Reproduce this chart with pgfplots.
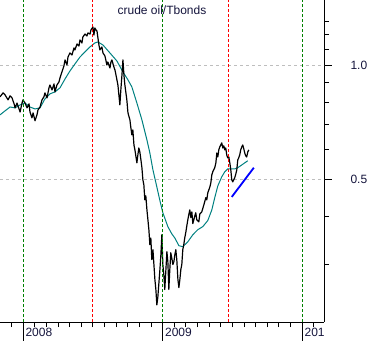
\documentclass[border=0pt]{standalone}
\usepackage{fontspec}
\setmainfont{Liberation Sans}
\usepackage{pgfplots}
\usepackage{pgfplotstable}
\pgfplotsset{compat=1.18}
\definecolor{navy}{RGB}{20,20,60}
\definecolor{tealc}{RGB}{0,128,128}
\definecolor{grn}{RGB}{0,128,0}
\definecolor{gridgray}{RGB}{190,190,190}

\pgfplotstableread{
t v
2007.835 0.825
2007.857 0.845
2007.871 0.835
2007.893 0.810
2007.907 0.830
2007.921 0.820
2007.936 0.791
2007.943 0.772
2007.957 0.795
2007.964 0.781
2007.979 0.753
2007.993 0.795
2008.000 0.810
2008.014 0.795
2008.029 0.772
2008.043 0.791
2008.050 0.753
2008.064 0.727
2008.072 0.749
2008.086 0.714
2008.100 0.740
2008.107 0.762
2008.122 0.776
2008.136 0.810
2008.150 0.825
2008.157 0.845
2008.172 0.820
2008.186 0.871
2008.193 0.886
2008.208 0.860
2008.222 0.892
2008.229 0.850
2008.243 0.886
2008.258 0.903
2008.265 0.925
2008.279 0.959
2008.293 0.994
2008.301 1.031
2008.315 1.000
2008.322 1.049
2008.336 1.075
2008.351 1.062
2008.365 1.108
2008.372 1.095
2008.387 1.135
2008.401 1.121
2008.408 1.163
2008.422 1.142
2008.429 1.184
2008.444 1.205
2008.458 1.191
2008.465 1.213
2008.480 1.205
2008.487 1.235
2008.501 1.257
2008.508 1.198
2008.515 1.250
2008.523 1.235
2008.530 1.227
2008.544 1.128
2008.551 1.095
2008.565 1.115
2008.573 1.075
2008.587 1.056
2008.601 1.000
2008.608 1.018
2008.623 0.982
2008.630 1.018
2008.637 1.031
2008.651 0.988
2008.659 0.970
2008.673 0.914
2008.680 0.886
2008.687 0.835
2008.694 0.786
2008.701 0.860
2008.709 0.942
2008.716 1.031
2008.723 0.942
2008.730 0.886
2008.744 0.810
2008.752 0.749
2008.766 0.718
2008.773 0.684
2008.780 0.656
2008.787 0.676
2008.795 0.617
2008.802 0.599
2008.816 0.554
2008.823 0.581
2008.830 0.606
2008.837 0.592
2008.845 0.564
2008.852 0.538
2008.859 0.500
2008.866 0.485
2008.873 0.443
2008.880 0.454
2008.888 0.417
2008.895 0.393
2008.902 0.370
2008.909 0.338
2008.916 0.352
2008.923 0.309
2008.931 0.328
2008.938 0.300
2008.945 0.274
2008.952 0.258
2008.959 0.235
2008.966 0.246
2008.973 0.266
2008.981 0.291
2008.988 0.318
2008.995 0.359
2009.002 0.300
2009.009 0.282
2009.016 0.258
2009.024 0.291
2009.031 0.324
2009.038 0.305
2009.045 0.258
2009.052 0.291
2009.059 0.322
2009.066 0.312
2009.074 0.300
2009.081 0.305
2009.088 0.318
2009.095 0.328
2009.102 0.309
2009.110 0.274
2009.117 0.261
2009.124 0.274
2009.131 0.291
2009.138 0.300
2009.145 0.328
2009.152 0.338
2009.159 0.352
2009.167 0.365
2009.174 0.379
2009.181 0.393
2009.188 0.405
2009.195 0.417
2009.203 0.398
2009.210 0.412
2009.217 0.384
2009.231 0.402
2009.238 0.410
2009.245 0.393
2009.260 0.388
2009.267 0.407
2009.281 0.412
2009.296 0.430
2009.310 0.449
2009.317 0.443
2009.324 0.462
2009.339 0.479
2009.346 0.491
2009.353 0.515
2009.360 0.525
2009.374 0.538
2009.382 0.554
2009.389 0.588
2009.396 0.574
2009.403 0.599
2009.410 0.610
2009.417 0.617
2009.424 0.625
2009.432 0.606
2009.439 0.614
2009.446 0.599
2009.453 0.606
2009.460 0.581
2009.467 0.571
2009.475 0.574
2009.482 0.554
2009.489 0.531
2009.496 0.500
2009.503 0.494
2009.510 0.500
2009.517 0.506
2009.525 0.518
2009.532 0.531
2009.539 0.564
2009.546 0.571
2009.553 0.581
2009.560 0.599
2009.568 0.610
2009.575 0.617
2009.582 0.603
2009.589 0.588
2009.596 0.578
2009.603 0.574
2009.611 0.592
2009.618 0.599
}\ratio

\pgfplotstableread{
t v
2007.835 0.740
2007.871 0.758
2007.907 0.776
2007.943 0.772
2007.979 0.786
2008.014 0.795
2008.050 0.776
2008.086 0.767
2008.122 0.772
2008.157 0.815
2008.193 0.840
2008.229 0.850
2008.265 0.871
2008.301 0.919
2008.336 0.964
2008.372 1.006
2008.408 1.049
2008.444 1.082
2008.480 1.115
2008.515 1.142
2008.537 1.149
2008.573 1.128
2008.623 1.075
2008.673 1.024
2008.716 0.959
2008.752 0.914
2008.780 0.876
2008.816 0.795
2008.852 0.718
2008.888 0.636
2008.909 0.588
2008.931 0.531
2008.959 0.479
2008.981 0.441
2009.002 0.410
2009.038 0.377
2009.066 0.361
2009.088 0.352
2009.117 0.336
2009.145 0.334
2009.181 0.344
2009.217 0.359
2009.252 0.370
2009.288 0.377
2009.324 0.391
2009.353 0.417
2009.374 0.449
2009.396 0.482
2009.424 0.509
2009.446 0.525
2009.467 0.534
2009.496 0.534
2009.517 0.534
2009.539 0.538
2009.568 0.547
2009.589 0.554
2009.611 0.561
}\mavg

\begin{document}
\begin{tikzpicture}
\begin{axis}[
  at={(0pt,0pt)}, anchor=south west,
  scale only axis, width=324pt, height=322pt,
  xmin=2007.835, xmax=2010.157,
  ymode=log, ymin=0.212, ymax=1.48,
  axis x line*=bottom, axis y line*=right,
  axis line style={black, line width=0.9pt},
  every tick/.style={black, line width=0.8pt},
  tick align=outside,
  major tick length=8pt, minor tick length=5pt,
  xtick={2008,2009,2010}, xticklabels={2008,2009,201},
  minor xtick={2007.9167,2008.0833,2008.1667,2008.25,2008.3333,2008.4167,2008.5,2008.5833,2008.6667,2008.75,2008.8333,2008.9167,2009.0833,2009.1667,2009.25,2009.3333,2009.4167,2009.5,2009.5833,2009.6667,2009.75,2009.8333,2009.9167,2010.0833},
  extra x ticks={2008,2009,2010}, extra x tick labels={},
  extra x tick style={major tick length=19pt},
  ytick={0.5,1}, yticklabels={0.5,1.0},
  minor ytick={0.3,0.4,0.6,0.7,0.8,0.9,1.1,1.2,1.3},
  /pgf/number format/assume math mode=true,
  tick label style={font=\fontsize{12}{14}\selectfont, text=navy},
  xticklabel style={anchor=north west, xshift=-1pt, yshift=5pt},
  yticklabel style={anchor=west, xshift=15pt},
  clip=true,
]
\addplot[gridgray, dashed, line width=0.8pt, dash pattern=on 3pt off 3pt] coordinates {(2007.835,1) (2010.157,1)};
\addplot[gridgray, dashed, line width=0.8pt, dash pattern=on 3pt off 3pt] coordinates {(2007.835,0.5) (2010.157,0.5)};
\addplot[tealc, line width=1pt] table[x=t, y=v] {\mavg};
\addplot[black, line width=1.2pt, line join=round] table[x=t, y=v] {\ratio};
\addplot[blue, line width=1.8pt] coordinates {(2009.496,0.451) (2009.654,0.538)};
\addplot[grn, line width=0.9pt, dash pattern=on 3pt off 2pt] coordinates {(2008,0.212) (2008,1.48)};
\addplot[grn, line width=0.9pt, dash pattern=on 3pt off 2pt] coordinates {(2009,0.212) (2009,1.48)};
\addplot[grn, line width=0.9pt, dash pattern=on 3pt off 2pt] coordinates {(2010,0.212) (2010,1.48)};
\addplot[red, line width=0.9pt, dash pattern=on 3pt off 2pt] coordinates {(2008.494,0.212) (2008.494,1.48)};
\addplot[red, line width=0.9pt, dash pattern=on 3pt off 2pt] coordinates {(2009.474,0.212) (2009.474,1.48)};
\node[font=\fontsize{12}{14}\selectfont, text=navy, anchor=center] at (rel axis cs:0.5,0.969) {crude oil/Tbonds};
\end{axis}
\pgfresetboundingbox
\path (0pt,-19pt) rectangle (371pt,322pt);
\end{tikzpicture}
\end{document}
